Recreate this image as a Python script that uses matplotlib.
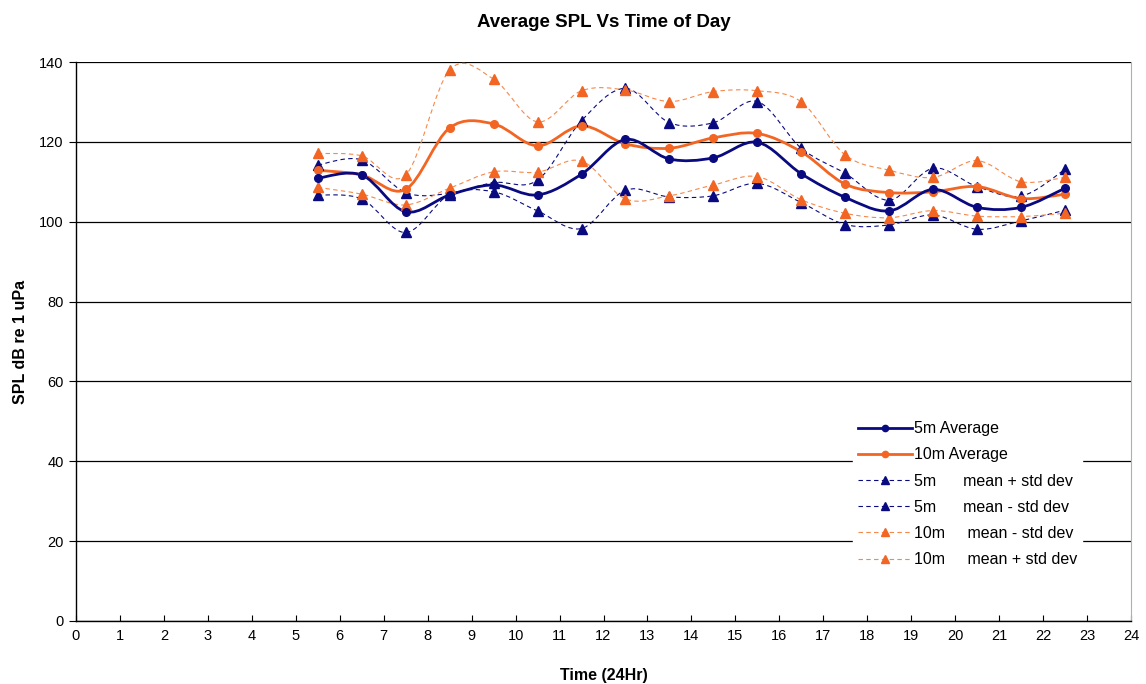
import matplotlib
matplotlib.use("Agg")
import matplotlib.pyplot as plt
import numpy as np
from matplotlib.path import Path
from matplotlib.patches import PathPatch
from matplotlib.lines import Line2D

plt.rcParams['font.family'] = ['Liberation Sans', 'DejaVu Sans']

hours = [5.5, 6.5, 7.5, 8.5, 9.5, 10.5, 11.5, 12.5, 13.5, 14.5, 15.5, 16.5, 17.5, 18.5, 19.5, 20.5, 21.5, 22.5]
avg5 = [110.9, 111.7, 102.5, 106.7, 109.2, 106.7, 111.9, 120.6, 115.7, 116.0, 119.9, 112.0, 106.1, 102.7, 108.1, 103.6, 103.6, 108.4]
avg10 = [112.9, 111.7, 108.1, 123.5, 124.5, 119.0, 124.0, 119.5, 118.4, 121.0, 122.1, 117.5, 109.4, 107.3, 107.5, 108.8, 105.8, 106.9]
plus5 = [114.2, 115.5, 107.3, 107.1, 109.8, 110.4, 125.3, 133.4, 124.8, 124.8, 130.1, 118.4, 112.1, 105.4, 113.4, 108.8, 106.4, 113.1]
minus5 = [106.7, 105.7, 97.3, 106.8, 107.5, 102.7, 98.3, 107.9, 106.2, 106.5, 109.6, 104.8, 99.3, 99.2, 101.7, 98.1, 100.2, 102.9]
minus10 = [108.6, 106.9, 104.2, 108.4, 112.5, 112.4, 115.2, 105.7, 106.5, 109.2, 111.3, 105.5, 102.1, 101.0, 102.8, 101.4, 101.3, 102.1]
plus10 = [117.1, 116.5, 111.7, 138.0, 135.7, 125.0, 132.8, 133.0, 130.1, 132.6, 132.8, 130.0, 116.7, 112.9, 111.1, 115.3, 110.0, 111.1]

labels = ["5m Average", "10m Average", "5m      mean + std dev", "5m      mean - std dev",
          "10m     mean - std dev", "10m     mean + std dev"]

NAVY = "#0a0a80"
ORANGE = "#f26522"
ORANGE_L = "#f5884a"


def smooth_path(xs, ys):
    pts = np.column_stack([xs, ys]).astype(float)
    n = len(pts)
    verts = [pts[0]]
    codes = [Path.MOVETO]
    for i in range(n - 1):
        p0 = pts[i - 1] if i > 0 else pts[i]
        p1 = pts[i]
        p2 = pts[i + 1]
        p3 = pts[i + 2] if i + 2 < n else pts[i + 1]
        c1 = p1 + (p2 - p0) / 6.0
        c2 = p2 - (p3 - p1) / 6.0
        verts += [c1, c2, p2]
        codes += [Path.CURVE4] * 3
    return Path(verts, codes)


fig = plt.figure(figsize=(11.46, 6.84), dpi=100)
ax = fig.add_axes([76 / 1146, 1 - 621 / 684, 1055 / 1146, 559 / 684])

ax.set_xlim(0, 24)
ax.set_ylim(0, 140)
ax.set_xticks(range(0, 25))
ax.set_yticks(range(0, 141, 20))
ax.yaxis.grid(True, color="black", linewidth=0.9)
ax.set_axisbelow(True)

series = [
    (avg5, NAVY, "-", 2.0, "o", 5.5),
    (avg10, ORANGE, "-", 2.0, "o", 5.5),
    (plus5, NAVY, (0, (4, 3)), 0.8, "^", 6.5),
    (minus5, NAVY, (0, (4, 3)), 0.8, "^", 6.5),
    (minus10, ORANGE_L, (0, (4, 3)), 0.8, "^", 6.5),
    (plus10, ORANGE_L, (0, (4, 3)), 0.8, "^", 6.5),
]
order = [2, 3, 4, 5, 1, 0]
handles = [None] * 6
for idx in order:
    vals, col, ls, lw, mk, ms = series[idx]
    patch = PathPatch(smooth_path(hours, vals), facecolor="none", edgecolor=col,
                      linestyle=ls, linewidth=lw, zorder=3 + (idx < 2))
    ax.add_patch(patch)
    mcol = ORANGE if col == ORANGE_L else col
    ax.plot(hours, vals, linestyle="none", marker=mk, markersize=ms, color=mcol, zorder=5)
    handles[idx] = Line2D([], [], color=col, linestyle=ls, linewidth=lw, marker=mk,
                          markersize=ms - 1, markerfacecolor=mcol, markeredgecolor=mcol)

ax.spines["top"].set_visible(False)
ax.spines["right"].set_color("#b0b0b0")
ax.spines["left"].set_linewidth(1.0)
ax.spines["bottom"].set_linewidth(1.0)

ax.tick_params(axis="x", direction="in", length=4, labelsize=10.5, pad=6, colors="black")
ax.tick_params(axis="y", direction="out", length=5, labelsize=10.5, pad=4)

ax.set_title("Average SPL Vs Time of Day", fontsize=13.5, fontweight="bold", pad=25)
ax.set_xlabel("Time (24Hr)", fontsize=11.5, fontweight="bold", labelpad=18)
ax.set_ylabel("SPL dB re 1 uPa", fontsize=11.5, fontweight="bold", labelpad=8)

leg = ax.legend(handles, labels, loc="upper left", bbox_to_anchor=(0.7365, 0.366),
                frameon=True, fontsize=11.5, handlelength=3.4, handletextpad=0.1,
                labelspacing=0.7, borderpad=0.3, borderaxespad=0)
leg.get_frame().set_edgecolor("white")
leg.get_frame().set_facecolor("white")
leg.get_frame().set_alpha(1)
leg.get_frame().set_boxstyle("square", pad=0)

fig.savefig("out.png", dpi=100)
